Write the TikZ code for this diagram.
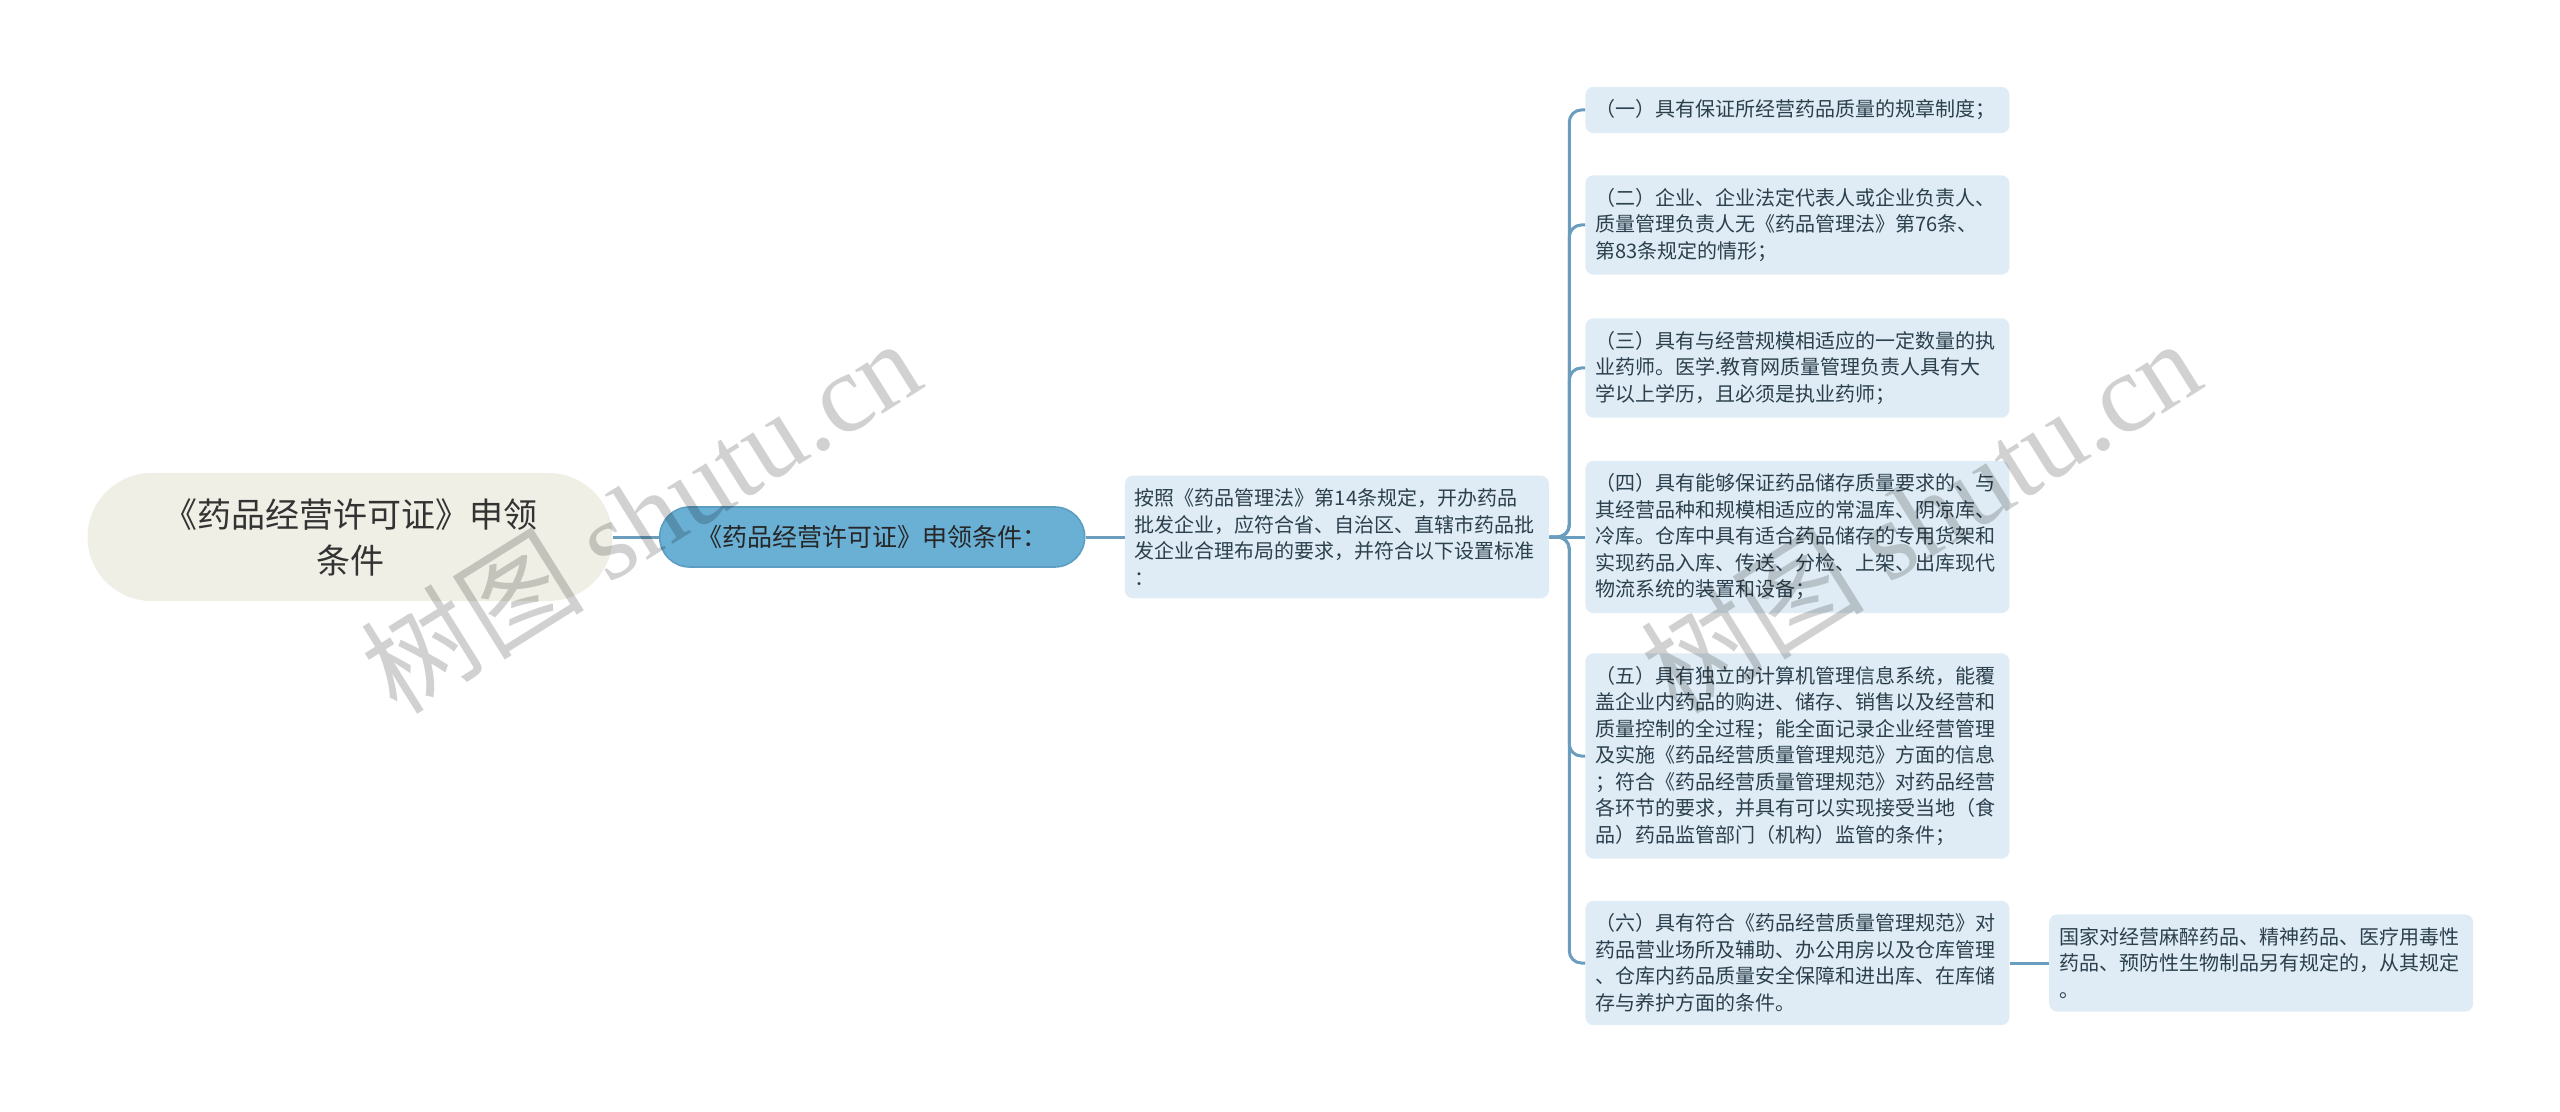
\documentclass[tikz,border=0pt]{standalone}
\usepackage{fontspec}
\setmainfont{Noto Sans CJK SC}
\newfontfamily\wmlatin{Liberation Serif}
\usetikzlibrary{positioning}
\definecolor{rootfill}{HTML}{EFEFE5}
\definecolor{subfill}{HTML}{6AAFD4}
\definecolor{subline}{HTML}{5C9DC2}
\definecolor{itemfill}{HTML}{DFECF5}
\definecolor{itemtext}{HTML}{2B3F4C}
\definecolor{linkblue}{HTML}{6A9DBE}
\tikzset{link/.style={draw=linkblue,line width=1.5pt}}
\tikzset{root node/.style={fill=rootfill,text=black!80,rounded corners=32pt,minimum width=262.5pt,minimum height=64pt,align=center,font=\fontsize{17pt}{23pt}\selectfont}}
\tikzset{sub node/.style={fill=subfill,draw=subline,line width=0.8pt,text=black!85,rounded corners=15pt,minimum width=212.5pt,minimum height=30pt,font=\fontsize{12.5pt}{15pt}\selectfont}}
\tikzset{item node/.style={fill=itemfill,text=itemtext,rounded corners=4pt,anchor=west,align=left,text width=202pt,inner xsep=5pt,inner ysep=6.5pt,font=\fontsize{10pt}{13.25pt}\selectfont}}
\tikzset{watermark/.style={text=black,text opacity=0.18,rotate=32,font=\fontsize{56pt}{56pt}\selectfont}}

\begin{document}
\begin{tikzpicture}[x=0.5pt,y=-0.5pt]
\useasboundingbox (0,0) rectangle (2560,1112);
\node[root node] (root) at (350,537) {《药品经营许可证》申领\\条件};
\node[sub node] (sub) [right=23pt of root] {《药品经营许可证》申领条件：};
\node[item node] (intro) [right=19.5pt of sub] {按照《药品管理法》第14条规定，开办药品\\批发企业，应符合省、自治区、直辖市药品批\\发企业合理布局的要求，并符合以下设置标准\\：};
\node[item node] (c1) at (1585,110) {（一）具有保证所经营药品质量的规章制度；};
\node[item node] (c2) at (1585,225) {（二）企业、企业法定代表人或企业负责人、\\质量管理负责人无《药品管理法》第76条、\\第83条规定的情形；};
\node[item node] (c3) at (1585,368) {（三）具有与经营规模相适应的一定数量的执\\业药师。医学.教育网质量管理负责人具有大\\学以上学历，且必须是执业药师；};
\node[item node] (c4) at (1585,537) {（四）具有能够保证药品储存质量要求的、与\\其经营品种和规模相适应的常温库、阴凉库、\\冷库。仓库中具有适合药品储存的专用货架和\\实现药品入库、传送、分检、上架、出库现代\\物流系统的装置和设备；};
\node[item node] (c5) at (1585,756) {（五）具有独立的计算机管理信息系统，能覆\\盖企业内药品的购进、储存、销售以及经营和\\质量控制的全过程；能全面记录企业经营管理\\及实施《药品经营质量管理规范》方面的信息\\；符合《药品经营质量管理规范》对药品经营\\各环节的要求，并具有可以实现接受当地（食\\品）药品监管部门（机构）监管的条件；};
\node[item node] (c6) at (1585,963) {（六）具有符合《药品经营质量管理规范》对\\药品营业场所及辅助、办公用房以及仓库管理\\、仓库内药品质量安全保障和进出库、在库储\\存与养护方面的条件。};
\node[item node] (extra) [right=19.5pt of c6] {国家对经营麻醉药品、精神药品、医疗用毒性\\药品、预防性生物制品另有规定的，从其规定\\。};
\path[link]
    (root)  edge (sub)
    (sub)   edge (intro)
    (intro) edge (c4)
    (c6)    edge (extra)
;
\foreach \c in {c1,c2,c3,c5,c6}
    \draw[link,rounded corners=6pt] (intro.east) -- ++(10pt,0) |- (\c.west);
% watermarks
\node[watermark] (wm1) at (640,515) {树图 {\wmlatin shutu.cn}};
\node[watermark] (wm2) at (1920,515) {树图 {\wmlatin shutu.cn}};
\end{tikzpicture}
\end{document}
